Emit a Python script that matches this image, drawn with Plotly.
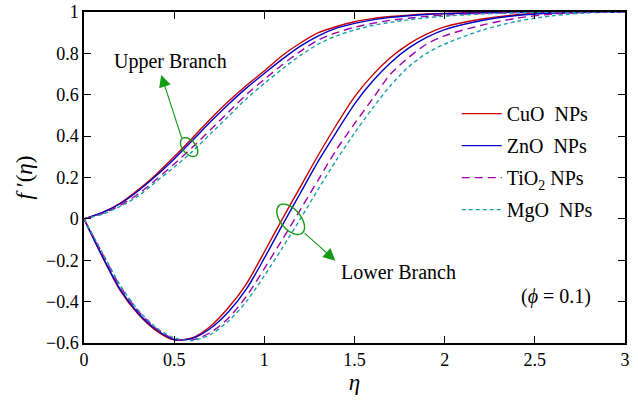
import numpy as np
import plotly.graph_objects as go

# ---------------- data ----------------
eta = [0, 0.1, 0.2, 0.3, 0.4, 0.5, 0.6, 0.7, 0.8, 0.9, 1.0, 1.1, 1.2, 1.3,
       1.4, 1.5, 1.6, 1.7, 1.8, 1.9, 2.0, 2.2, 2.4, 2.6, 2.8, 3.0]

cuo_upper = [0, 0.03, 0.075, 0.14, 0.215, 0.30, 0.39, 0.482, 0.567, 0.645, 0.715,
             0.79, 0.85, 0.90, 0.93, 0.953, 0.968, 0.978, 0.985, 0.99, 0.993,
             0.997, 0.999, 1.0, 1.0, 1.0]
zno_upper = [0, 0.03, 0.073, 0.135, 0.208, 0.29, 0.378, 0.468, 0.553, 0.632, 0.703,
             0.772, 0.835, 0.885, 0.922, 0.945, 0.962, 0.974, 0.982, 0.988, 0.992,
             0.996, 0.999, 1.0, 1.0, 1.0]
tio2_upper = [0, 0.025, 0.065, 0.12, 0.19, 0.265, 0.345, 0.43, 0.515, 0.60, 0.675,
              0.745, 0.81, 0.865, 0.90, 0.926, 0.945, 0.96, 0.97, 0.979, 0.985,
              0.993, 0.997, 0.999, 1.0, 1.0]
mgo_upper = [0, 0.022, 0.06, 0.11, 0.18, 0.25, 0.325, 0.41, 0.495, 0.58, 0.655,
             0.725, 0.79, 0.845, 0.885, 0.913, 0.935, 0.95, 0.962, 0.972, 0.98,
             0.99, 0.996, 0.999, 1.0, 1.0]

cuo_lower = [0, -0.18, -0.345, -0.46, -0.54, -0.585, -0.575, -0.52, -0.43, -0.315,
             -0.16, 0.0, 0.155, 0.31, 0.455, 0.59, 0.695, 0.78, 0.845, 0.893, 0.928,
             0.965, 0.987, 0.997, 1.0, 1.0]
zno_lower = [0, -0.178, -0.34, -0.455, -0.535, -0.583, -0.578, -0.53, -0.45, -0.34,
             -0.19, -0.03, 0.125, 0.28, 0.42, 0.555, 0.665, 0.755, 0.825, 0.877, 0.915,
             0.958, 0.983, 0.995, 0.999, 1.0]
tio2_lower = [0, -0.165, -0.325, -0.445, -0.53, -0.58, -0.585, -0.55, -0.48, -0.375,
              -0.24, -0.10, 0.045, 0.19, 0.335, 0.46, 0.58, 0.70, 0.78, 0.845, 0.885,
              0.935, 0.97, 0.99, 0.998, 1.0]
mgo_lower = [0, -0.16, -0.32, -0.44, -0.525, -0.575, -0.588, -0.56, -0.495, -0.40,
             -0.275, -0.14, 0.0, 0.145, 0.285, 0.415, 0.535, 0.645, 0.735, 0.80, 0.845,
             0.91, 0.955, 0.982, 0.996, 1.0]

names = ["CuO\u00a0 NPs", "ZnO\u00a0 NPs", "TiO<sub>2</sub> NPs", "MgO\u00a0 NPs"]
uppers = [cuo_upper, zno_upper, tio2_upper, mgo_upper]
lowers = [cuo_lower, zno_lower, tio2_lower, mgo_lower]

x_ticks = [0, 0.5, 1, 1.5, 2, 2.5, 3]
x_ticklabels = ["0", "0.5", "1", "1.5", "2", "2.5", "3"]
y_ticks = [-0.6, -0.4, -0.2, 0, 0.2, 0.4, 0.6, 0.8, 1]
y_ticklabels = ["\u22120.6", "\u22120.4", "\u22120.2", "0", "0.2", "0.4", "0.6", "0.8", "1"]

# ---------------- styles ----------------
colors = ["#c80000", "#0000c8", "#a000a8", "#1aa0a8"]
dashes = ["solid", "solid", "8px,5px", "4px,3px"]
widths = [1.4, 1.4, 1.4, 1.4]
SERIF = "Liberation Serif, Times New Roman, serif"
GREEN = "#159a15"

fig = go.Figure()
for i in range(4):
    fig.add_trace(go.Scatter(
        x=eta, y=lowers[i], mode="lines", name=names[i], legendgroup=str(i),
        showlegend=False,
        line=dict(color=colors[i], dash=dashes[i], width=widths[i],
                  shape="spline", smoothing=0.8)))
for i in range(4):
    fig.add_trace(go.Scatter(
        x=eta, y=uppers[i], mode="lines", name=names[i], legendgroup=str(i),
        showlegend=True,
        line=dict(color=colors[i], dash=dashes[i], width=widths[i],
                  shape="spline", smoothing=0.8)))

# ---------------- layout geometry ----------------
W, H = 638, 400
ml, mr, mt, mb = 84, 13, 12, 57
xr = [0, 3]
yr = [-0.6, 1]
sx = (W - ml - mr) / (xr[1] - xr[0])
sy = (H - mt - mb) / (yr[1] - yr[0])


def ellipse_path(cx, cy, a, b, theta_deg, n=60):
    th = np.deg2rad(theta_deg)
    t = np.linspace(0, 2 * np.pi, n)
    dxp = a * np.cos(t) * np.cos(th) - b * np.sin(t) * np.sin(th)
    dyp = a * np.cos(t) * np.sin(th) + b * np.sin(t) * np.cos(th)
    xs = cx + dxp / sx
    ys = cy - dyp / sy
    p = "M {:.5f},{:.5f}".format(xs[0], ys[0])
    for xx, yy in zip(xs[1:], ys[1:]):
        p += " L {:.5f},{:.5f}".format(xx, yy)
    return p + " Z"


shapes = [
    dict(type="path", xref="x", yref="y", path=ellipse_path(0.583, 0.347, 11, 6.5, 50),
         line=dict(color=GREEN, width=1.4)),
    dict(type="path", xref="x", yref="y", path=ellipse_path(1.146, -0.002, 18, 10, 50),
         line=dict(color=GREEN, width=1.4)),
]

annotations = [
    dict(x=0.428, y=0.696, ax=0.544, ay=0.385, xref="x", yref="y", axref="x", ayref="y",
         showarrow=True, arrowhead=2, arrowsize=2.2, arrowwidth=1.1, arrowcolor=GREEN, text=""),
    dict(x=1.394, y=-0.202, ax=1.215, ay=-0.062, xref="x", yref="y", axref="x", ayref="y",
         showarrow=True, arrowhead=2, arrowsize=2.2, arrowwidth=1.1, arrowcolor=GREEN, text=""),
    dict(x=0.48, y=0.763, xref="x", yref="y", text="Upper Branch", showarrow=False,
         font=dict(family=SERIF, size=20, color="black")),
    dict(x=1.742, y=-0.257, xref="x", yref="y", text="Lower Branch", showarrow=False,
         font=dict(family=SERIF, size=20, color="black")),
    dict(x=2.619, y=-0.377, xref="x", yref="y", text="(<i>\u03d5</i> = 0.1)", showarrow=False,
         font=dict(family=SERIF, size=20, color="black")),
]

axis_common = dict(
    showline=True, linecolor="black", linewidth=1.5, mirror="ticks",
    ticks="inside", ticklen=7, tickwidth=1, tickcolor="black",
    showgrid=False, zeroline=False, automargin=False,
    tickfont=dict(family=SERIF, size=18, color="black"),
)

fig.update_layout(
    width=W, height=H,
    margin=dict(l=ml, r=mr, t=mt, b=mb, autoexpand=False),
    paper_bgcolor="white", plot_bgcolor="white",
    xaxis=dict(range=xr, tickvals=x_ticks, ticktext=x_ticklabels,
               title=dict(text="<i>η</i>", font=dict(family=SERIF, size=23, color="black"),
                          standoff=4),
               **axis_common),
    yaxis=dict(range=yr, tickvals=y_ticks, ticktext=y_ticklabels,
               title=dict(text="<i>f</i> \u2032(<i>η</i>)",
                          font=dict(family=SERIF, size=23, color="black"), standoff=7),
               **axis_common),
    legend=dict(x=0.689, y=0.752, xanchor="left", yanchor="top",
                bgcolor="rgba(0,0,0,0)", borderwidth=0, itemwidth=40,
                font=dict(family=SERIF, size=20, color="black"),
                tracegroupgap=3),
    shapes=shapes,
    annotations=annotations,
    showlegend=True,
)

fig.write_html("out.html", config={"displayModeBar": False},
               post_script="document.body.style.margin='0';")
